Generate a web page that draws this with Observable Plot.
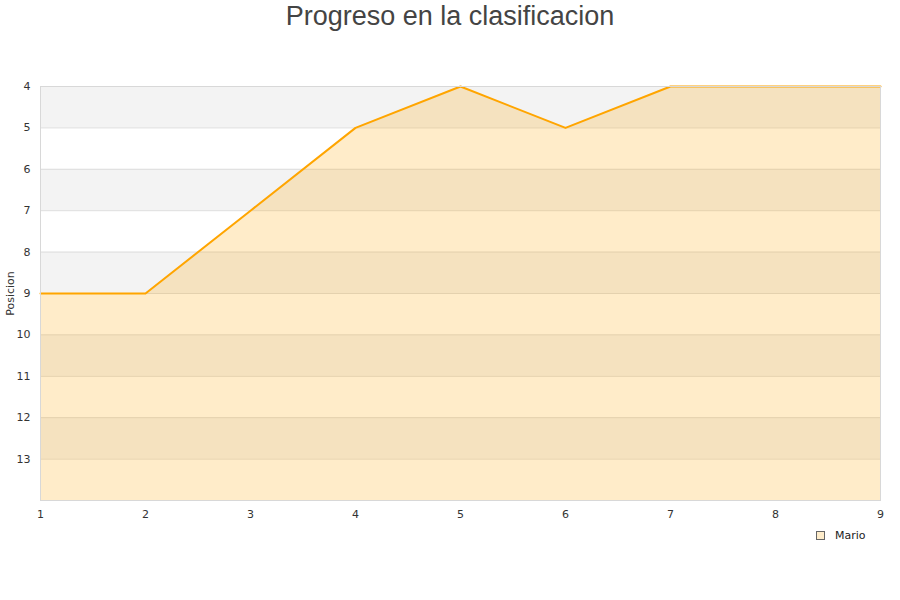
<!DOCTYPE html>
<html>
<head>
<meta charset="utf-8">
<script src="https://cdn.jsdelivr.net/npm/d3@7"></script>
<script src="https://cdn.jsdelivr.net/npm/@observablehq/plot@0.6"></script>
<style>
  body { margin: 0; background: #fff; }
  #wrap { position: relative; width: 900px; height: 600px; }
  #title { position: absolute; left: 0; top: 0; width: 900px; text-align: center; font-family: "Liberation Sans", Arial, sans-serif; font-size: 27px; color: #444; line-height: 32px; }
  #legend { position: absolute; left: 816px; top: 529px; font-family: "DejaVu Sans", sans-serif; font-size: 11px; color: #222; display: flex; align-items: center; }
  #legend span.sw { display: inline-block; width: 7px; height: 7px; background: #feecca; border: 1px solid #666; margin-right: 10px; }
</style>
</head>
<body>
<div id="wrap">
  <div id="title">Progreso en la clasificacion</div>
  <div id="chart"></div>
  <div id="legend"><span class="sw"></span>Mario</div>
</div>
<script>
const jornadas = [1, 2, 3, 4, 5, 6, 7, 8, 9];
const posicion = [9, 9, 7, 5, 4, 5, 4, 4, 4];
const yTicks = [4, 5, 6, 7, 8, 9, 10, 11, 12, 13];
const gridLines = [4, 5, 6, 7, 8, 9, 10, 11, 12, 13, 14];
const bandStarts = [4, 6, 8, 10, 12];
const seriesName = "Mario";

const data = jornadas.map((j, i) => ({ j, p: posicion[i] }));

const chart = Plot.plot({
  width: 900,
  height: 600,
  marginTop: 86,
  marginBottom: 100,
  marginLeft: 40,
  marginRight: 20,
  style: { fontFamily: "DejaVu Sans, sans-serif", fontSize: "11px", color: "#333", background: "transparent" },
  x: { domain: [1, 9], ticks: jornadas, tickSize: 0, tickPadding: 10, label: null, tickFormat: d => d },
  y: { domain: [4, 14], reverse: true, ticks: yTicks, tickSize: 0, tickPadding: 10, label: "Posicion", labelAnchor: "center", labelOffset: 34 },
  marks: [
    Plot.rect(bandStarts, { x1: 1, x2: 9, y1: d => d, y2: d => d + 1, fill: "#f3f3f3" }),
    Plot.ruleY(gridLines, { stroke: "#dddddd", strokeWidth: 1 }),
    Plot.areaY(data, { x: "j", y1: 14, y2: "p", fill: "#ffa500", fillOpacity: 0.21 }),
    Plot.line(data, { x: "j", y: "p", stroke: "#ffa500", strokeWidth: 2 }),
    Plot.frame({ stroke: "#d8d8d8" }),
    Plot.axisX({ ticks: jornadas, tickSize: 0, tickPadding: 10, label: null }),
    Plot.axisY({ ticks: yTicks, tickSize: 0, tickPadding: 10, label: "Posicion", labelAnchor: "center", labelArrow: false, labelOffset: 34 })
  ]
});
document.getElementById("chart").appendChild(chart);
</script>
</body>
</html>
